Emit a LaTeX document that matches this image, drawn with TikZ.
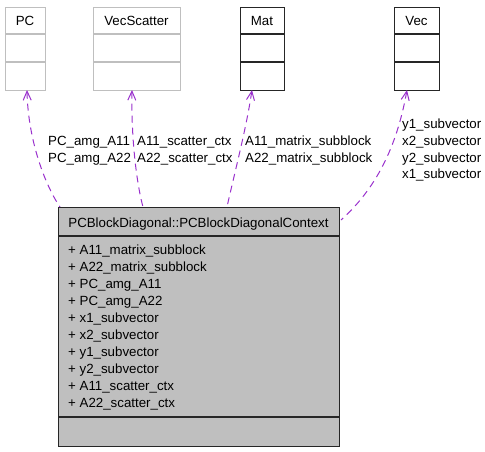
\documentclass[tikz,border=0pt]{standalone}
\usepackage{fontspec}
\setmainfont{Liberation Sans}
\usetikzlibrary{arrows.meta}
\definecolor{edgepurple}{HTML}{9A32CD}
\definecolor{boxgray}{HTML}{BFBFBF}
\definecolor{lightborder}{HTML}{BFBFBF}
\tikzset{
  txt/.style={inner sep=0pt, anchor=base west, font=\fontsize{13.3pt}{15pt}\selectfont},
  ctxt/.style={inner sep=0pt, anchor=base, font=\fontsize{13.3pt}{15pt}\selectfont},
  lightbox/.style={draw=lightborder, line width=1.2pt, fill=white, inner sep=0pt},
  darkbox/.style={draw=black!85, line width=1.2pt, fill=white, inner sep=0pt},
  mainbox/.style={draw=black!85, line width=1.2pt, fill=boxgray, inner sep=0pt},
  usage/.style={draw=edgepurple, line width=1pt, dash pattern=on 7pt off 5pt,
    {Straight Barb[length=9pt,width=8pt]}-}
}
\begin{document}
\begin{tikzpicture}[x=1pt,y=-1pt]
\useasboundingbox (0,0) rectangle (485,451);
% top class boxes
\node[lightbox, minimum width=40pt, minimum height=83pt, anchor=north west] (pc) at (5,7) {};
\draw[lightborder, line width=1.2pt] (5,34) -- (45,34) (5,62) -- (45,62);
\node[ctxt] (pct) at (25,25) {PC};
\node[lightbox, minimum width=87pt, minimum height=83pt, anchor=north west] (vs) at (93,7) {};
\draw[lightborder, line width=1.2pt] (93,34) -- (180,34) (93,62) -- (180,62);
\node[ctxt] (vst) at (136.5,25) {VecScatter};
\node[darkbox, minimum width=44pt, minimum height=83pt, anchor=north west] (mat) at (240,7) {};
\draw[black!85, line width=1.2pt] (240,34) -- (284,34) (240,62) -- (284,62);
\node[ctxt] (matt) at (262,25) {Mat};
\node[darkbox, minimum width=45pt, minimum height=83pt, anchor=north west] (vec) at (394,7) {};
\draw[black!85, line width=1.2pt] (394,34) -- (439,34) (394,62) -- (439,62);
\node[ctxt] (vect) at (416.5,25) {Vec};
% main box
\node[mainbox, minimum width=281pt, minimum height=239pt, anchor=north west] (ctx) at (58,207) {};
\draw[black!85, line width=1.2pt] (58,236) -- (339,236) (58,417) -- (339,417);
\node[ctxt] (ctxtitle) at (198.5,227) {PCBlockDiagonal::PCBlockDiagonalContext};
\foreach \t [count=\i from 0] in {A11\_matrix\_subblock,A22\_matrix\_subblock,PC\_amg\_A11,PC\_amg\_A22,x1\_subvector,x2\_subvector,y1\_subvector,y2\_subvector,A11\_scatter\_ctx,A22\_scatter\_ctx}
  \node[txt] (attr\i) at (68,{254+17.04*\i}) {+ \t};
% connector end points
\coordinate (pcTip) at (27,90);
\coordinate (vsTip) at (132,90);
\coordinate (matTip) at (252,90);
\coordinate (vecTip) at (407,90);
\coordinate (ctxA) at (60,207);
\coordinate (ctxB) at (143,207);
\coordinate (ctxC) at (227,207);
\coordinate (ctxD) at (341,220);
% connectors
\draw[usage] (pcTip) .. controls (28,140) and (45,185) .. (ctxA);
\draw[usage] (vsTip) .. controls (131,140) and (137,185) .. (ctxB);
\draw[usage] (matTip) .. controls (246,130) and (234,175) .. (ctxC);
\draw[usage] (vecTip) .. controls (398,140) and (380,185) .. (ctxD);
% labels
\node[txt] (l1) at (48,145.5) {PC\_amg\_A11};
\node[txt] (l2) at (48,162.5) {PC\_amg\_A22};
\node[txt] (l3) at (137,145.5) {A11\_scatter\_ctx};
\node[txt] (l4) at (137,162.5) {A22\_scatter\_ctx};
\node[txt] (l5) at (245,145.5) {A11\_matrix\_subblock};
\node[txt] (l6) at (245,162.5) {A22\_matrix\_subblock};
\node[txt] (l7) at (402,128.5) {y1\_subvector};
\node[txt] (l8) at (402,145.3) {x2\_subvector};
\node[txt] (l9) at (402,162.1) {y2\_subvector};
\node[txt] (l10) at (402,178.9) {x1\_subvector};
\end{tikzpicture}
\end{document}
